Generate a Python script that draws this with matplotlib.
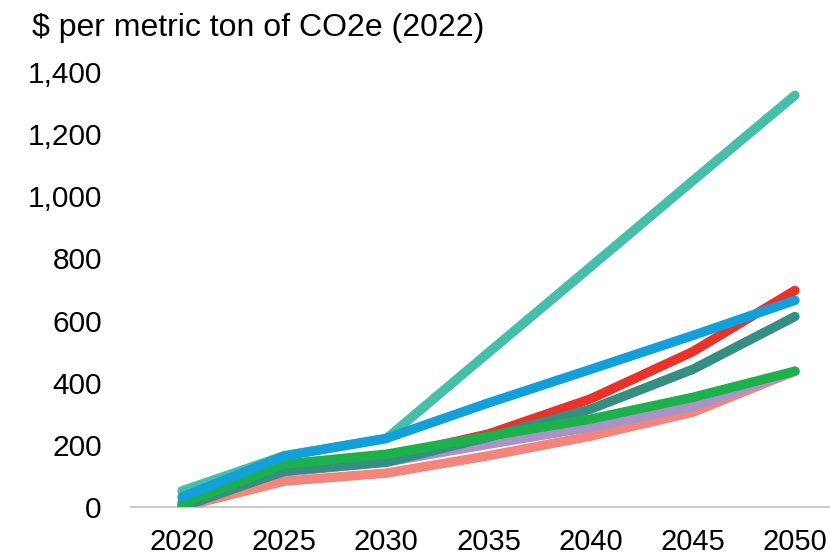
import matplotlib
matplotlib.use("Agg")
import matplotlib.pyplot as plt

years = [2020, 2025, 2030, 2035, 2040, 2045, 2050]
pink = [0, 83, 109, 165, 228, 305, 437]
purple = [19, 112, 145, 202, 257, 324, 437]
red = [5, 115, 160, 235, 348, 500, 697]
dark_teal = [0, 116, 144, 225, 315, 443, 613]
green = [10, 138, 170, 228, 283, 353, 437]
teal = [52, 165, 220, 497, 773, 1050, 1325]
blue = [32, 164, 221, 335, 443, 552, 665]

yticks = [0, 200, 400, 600, 800, 1000, 1200, 1400]
title = "$ per metric ton of CO2e (2022)"

series = [
    (pink, "#F2867D"),
    (purple, "#AA93C6"),
    (red, "#E8322A"),
    (dark_teal, "#348F82"),
    (green, "#1DB14B"),
    (teal, "#46BFAA"),
    (blue, "#139FDA"),
]

plt.rcParams['font.family'] = ['Liberation Sans', 'DejaVu Sans']

W, H = 830, 558
fig = plt.figure(figsize=(W / 100, H / 100), dpi=100)
left, right, bottom, top = 131, 846, 51, 486
ax = fig.add_axes([left / W, bottom / H, (right - left) / W, (top - bottom) / H])

for vals, col in series:
    ax.plot(years, vals, color=col, lw=6.8, solid_capstyle='round', solid_joinstyle='round')

ax.set_xlim(2017.5, 2052.5)
ax.set_ylim(0, 1400)
ax.set_xticks(years)
ax.set_xticklabels([str(y) for y in years])
ax.set_yticks(yticks)
ax.set_yticklabels([f"{v:,}" for v in yticks])
ax.tick_params(axis='y', length=0, pad=21, labelsize=21.5)
ax.tick_params(axis='x', length=0, pad=15, labelsize=21)
for s in ['top', 'right', 'left']:
    ax.spines[s].set_visible(False)
ax.spines['bottom'].set_color('#BFBFBF')
ax.spines['bottom'].set_linewidth(1.2)
ax.spines['bottom'].set_zorder(0)

fig.text(32 / W, 1 - 28 / H, title, fontsize=23, ha='left', va='center')

fig.savefig("out.png", dpi=100)
